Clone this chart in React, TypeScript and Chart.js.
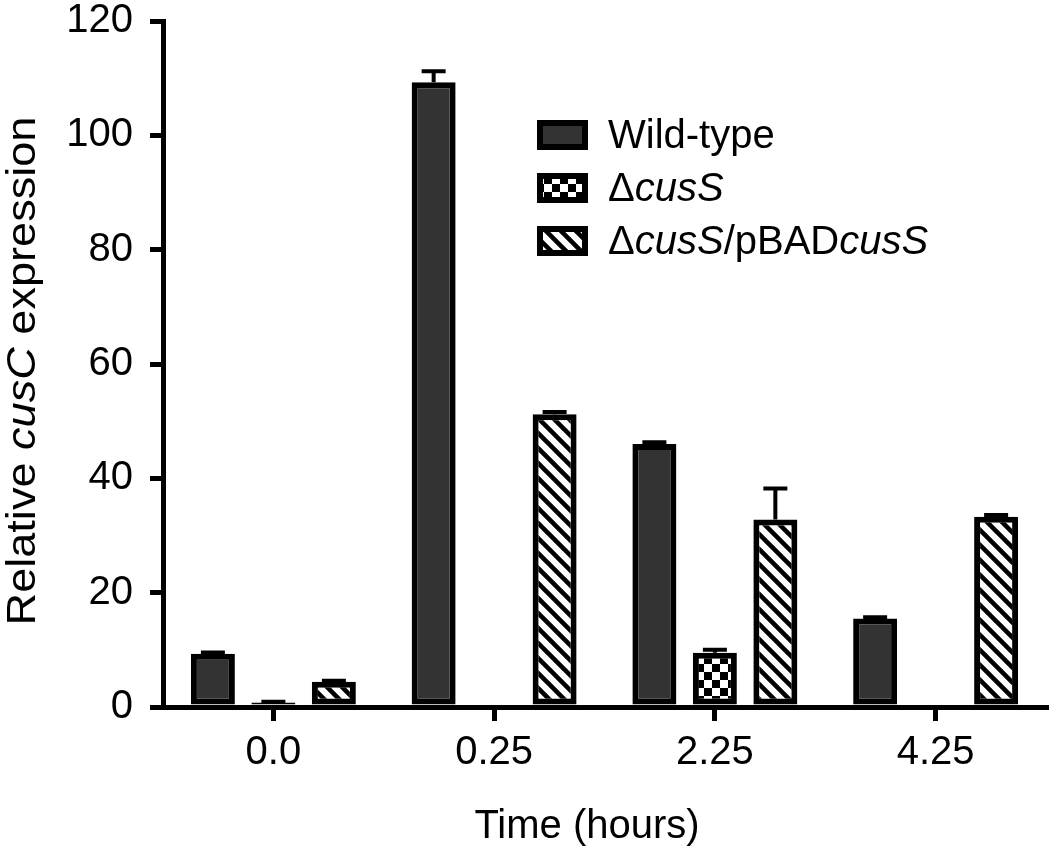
import React, { useEffect, useRef } from "react";
import { Chart, registerables } from "chart.js";

Chart.register(...registerables);

const categories = ["0.0", "0.25", "2.25", "4.25"];
const seriesLabels = ["Wild-type", "Δ*cusS*", "Δ*cusS*/pBAD*cusS*"];
const wildType = [9.3, 109.3, 46.0, 15.5];
const wildTypeErr = [0.25, 1.9, 0.3, 0.2];
const cusSDeletion = [0.8, 0, 9.5, 0];
const cusSDeletionErr = [0.1, 0, 0.5, 0];
const complemented = [4.4, 51.2, 32.8, 33.3];
const complementedErr = [0.2, 0.4, 5.4, 0.3];
const yTicks = [0, 20, 40, 60, 80, 100, 120];
const xTitle = "Time (hours)";
const yTitle = "Relative *cusC* expression";

const FONT = "'Liberation Sans', Arial, Helvetica, sans-serif";

type Seg = { t: string; it: boolean };
function parseRich(s: string): Seg[] {
  const parts = s.split("*");
  return parts.map((t, i) => ({ t, it: i % 2 === 1 })).filter((p) => p.t.length > 0);
}
const plain = (s: string) => s.split("*").join("");

function drawRich(ctx: CanvasRenderingContext2D, s: string, x: number, y: number, size: number, align: "left" | "center") {
  const segs = parseRich(s);
  const fontOf = (it: boolean) => `${it ? "italic " : ""}${size}px ${FONT}`;
  let total = 0;
  segs.forEach((sg) => {
    ctx.font = fontOf(sg.it);
    total += ctx.measureText(sg.t).width;
  });
  let cx = align === "center" ? x - total / 2 : x;
  ctx.textAlign = "left";
  segs.forEach((sg) => {
    ctx.font = fontOf(sg.it);
    ctx.fillText(sg.t, cx, y);
    cx += ctx.measureText(sg.t).width;
  });
}

function makeStripe(): CanvasPattern | string {
  const c = document.createElement("canvas");
  c.width = 15;
  c.height = 15;
  const g = c.getContext("2d");
  if (!g) return "#fff";
  g.fillStyle = "#fff";
  g.fillRect(0, 0, 15, 15);
  g.strokeStyle = "#000";
  g.lineWidth = 4.5;
  g.beginPath();
  for (const o of [-15, 0, 15]) {
    g.moveTo(o - 2, -2);
    g.lineTo(o + 17, 17);
  }
  g.stroke();
  return g.createPattern(c, "repeat") || "#fff";
}

function makeChecker(): CanvasPattern | string {
  const c = document.createElement("canvas");
  c.width = 16;
  c.height = 16;
  const g = c.getContext("2d");
  if (!g) return "#888";
  g.fillStyle = "#fff";
  g.fillRect(0, 0, 16, 16);
  g.fillStyle = "#000";
  g.fillRect(0, 0, 8, 8);
  g.fillRect(8, 8, 8, 8);
  return g.createPattern(c, "repeat") || "#888";
}

export default function App() {
  const ref = useRef<HTMLCanvasElement | null>(null);

  useEffect(() => {
    const canvas = ref.current;
    if (!canvas) return;
    const fills = ["#333333", makeChecker(), makeStripe()];
    const values = [wildType, cusSDeletion, complemented];
    const errs = [wildTypeErr, cusSDeletionErr, complementedErr];

    const overlay = {
      id: "overlay",
      afterDatasetsDraw(chart: any) {
        const ctx: CanvasRenderingContext2D = chart.ctx;
        const y = chart.scales.y;
        errs.forEach((errArr, di) => {
          const meta = chart.getDatasetMeta(di);
          meta.data.forEach((bar: any, j: number) => {
            const e = errArr[j];
            if (!e) return;
            const v = values[di][j];
            const top = y.getPixelForValue(v);
            const ey = y.getPixelForValue(v + e);
            ctx.save();
            ctx.strokeStyle = "#000";
            ctx.lineWidth = 4;
            ctx.beginPath();
            ctx.moveTo(bar.x, top);
            ctx.lineTo(bar.x, ey);
            ctx.moveTo(bar.x - 12, ey);
            ctx.lineTo(bar.x + 12, ey);
            ctx.stroke();
            ctx.restore();
          });
        });
      },
      afterDraw(chart: any) {
        const ctx: CanvasRenderingContext2D = chart.ctx;
        ctx.save();
        ctx.fillStyle = "#000";
        ctx.textBaseline = "alphabetic";
        // legend
        seriesLabels.forEach((lab, i) => {
          const cy = 135 + i * 53;
          ctx.fillStyle = fills[i] as any;
          ctx.fillRect(537, cy - 15, 51, 30);
          ctx.strokeStyle = "#000";
          ctx.lineWidth = 6;
          ctx.strokeRect(540, cy - 12, 45, 24);
          ctx.fillStyle = "#000";
          drawRich(ctx, lab, 608, cy + 13, 40, "left");
        });
        // x title
        drawRich(ctx, xTitle, 587, 838, 40, "center");
        // y title
        ctx.translate(35, 371);
        ctx.rotate(-Math.PI / 2);
        ctx.scale(1.1, 1);
        drawRich(ctx, yTitle, 0, 0, 41, "center");
        ctx.restore();
      },
    };

    const chart = new Chart(canvas, {
      type: "bar",
      data: {
        labels: categories,
        datasets: values.map((vals, i) => ({
          label: plain(seriesLabels[i]),
          data: vals,
          backgroundColor: fills[i] as any,
          borderColor: "#000",
          borderWidth: 6,
          borderSkipped: false,
          categoryPercentage: 0.822,
          barPercentage: 0.727,
        })),
      },
      options: {
        responsive: false,
        animation: false,
        devicePixelRatio: 1,
        layout: { padding: { top: 21, right: 4, left: 0, bottom: 0 } },
        plugins: { legend: { display: false }, tooltip: { enabled: false } },
        scales: {
          x: {
            offset: true,
            grid: {
              display: true,
              drawOnChartArea: false,
              drawTicks: true,
              tickLength: 14,
              lineWidth: 5,
              color: "#000",
              offset: false,
            },
            border: { display: true, color: "#000", width: 5 },
            ticks: {
              color: "#000",
              padding: 12,
              font: { family: FONT, size: 40, lineHeight: 1 },
              maxRotation: 0,
            },
            afterFit(scale: any) {
              scale.height = 143;
              scale.paddingLeft = 0;
              scale.paddingRight = 0;
            },
          },
          y: {
            min: 0,
            max: 120,
            afterBuildTicks(scale: any) {
              scale.ticks = yTicks.map((v) => ({ value: v }));
            },
            grid: {
              display: true,
              drawOnChartArea: false,
              drawTicks: true,
              tickLength: 13,
              lineWidth: 5,
              color: "#000",
            },
            border: { display: true, color: "#000", width: 5 },
            ticks: {
              color: "#000",
              padding: 17,
              font: { family: FONT, size: 40, lineHeight: 1 },
            },
            afterFit(scale: any) {
              scale.width = 163;
              scale.paddingTop = 0;
              scale.paddingBottom = 0;
            },
          },
        },
      },
      plugins: [overlay],
    });
    return () => chart.destroy();
  }, []);

  return (
    <div style={{ position: "absolute", left: 0, top: 0, width: 1050, height: 850, background: "#fff" }}>
      <canvas ref={ref} width={1050} height={850} style={{ display: "block" }} />
    </div>
  );
}
